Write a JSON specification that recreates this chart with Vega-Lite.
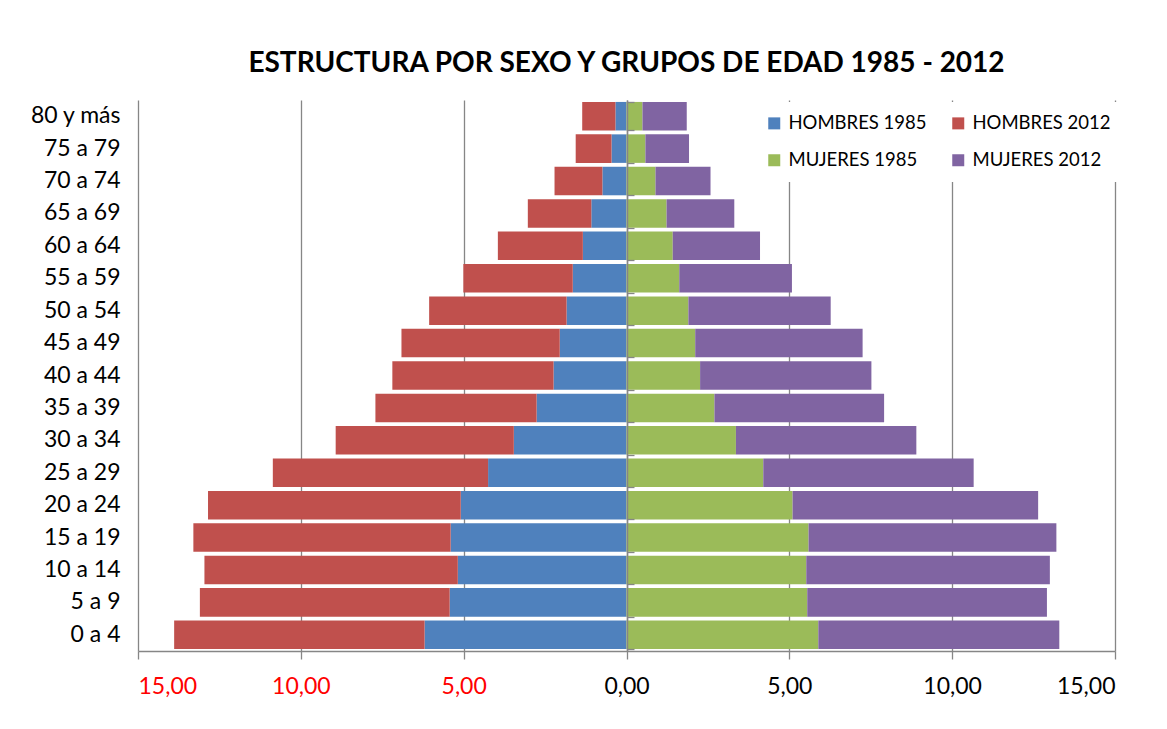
{
  "$schema": "https://vega.github.io/schema/vega-lite/v6.json",
  "width": 977,
  "height": 551,
  "autosize": {"type": "none"},
  "padding": {"left": 138, "top": 100, "right": 52, "bottom": 78},
  "background": "white",
  "title": {
    "text": "ESTRUCTURA POR SEXO Y GRUPOS DE EDAD 1985 - 2012",
    "font": "Lato",
    "fontSize": 28,
    "fontWeight": "bold",
    "color": "#000000",
    "anchor": "middle",
    "frame": "group",
    "baseline": "alphabetic",
    "offset": 0
  },
  "config": {
    "view": {"stroke": null},
    "axis": {"labelFont": "Lato", "titleFont": "Lato"},
    "legend": {"labelFont": "Lato"}
  },
  "data": {
    "values": [
      {"edad": "80 y más", "serie": "HOMBRES 1985", "valor": -0.34},
      {"edad": "80 y más", "serie": "HOMBRES 2012", "valor": -1.02},
      {"edad": "80 y más", "serie": "MUJERES 1985", "valor": 0.49},
      {"edad": "80 y más", "serie": "MUJERES 2012", "valor": 1.36},
      {"edad": "75 a 79", "serie": "HOMBRES 1985", "valor": -0.46},
      {"edad": "75 a 79", "serie": "HOMBRES 2012", "valor": -1.10},
      {"edad": "75 a 79", "serie": "MUJERES 1985", "valor": 0.58},
      {"edad": "75 a 79", "serie": "MUJERES 2012", "valor": 1.34},
      {"edad": "70 a 74", "serie": "HOMBRES 1985", "valor": -0.74},
      {"edad": "70 a 74", "serie": "HOMBRES 2012", "valor": -1.47},
      {"edad": "70 a 74", "serie": "MUJERES 1985", "valor": 0.89},
      {"edad": "70 a 74", "serie": "MUJERES 2012", "valor": 1.69},
      {"edad": "65 a 69", "serie": "HOMBRES 1985", "valor": -1.08},
      {"edad": "65 a 69", "serie": "HOMBRES 2012", "valor": -1.95},
      {"edad": "65 a 69", "serie": "MUJERES 1985", "valor": 1.23},
      {"edad": "65 a 69", "serie": "MUJERES 2012", "valor": 2.08},
      {"edad": "60 a 64", "serie": "HOMBRES 1985", "valor": -1.34},
      {"edad": "60 a 64", "serie": "HOMBRES 2012", "valor": -2.61},
      {"edad": "60 a 64", "serie": "MUJERES 1985", "valor": 1.42},
      {"edad": "60 a 64", "serie": "MUJERES 2012", "valor": 2.68},
      {"edad": "55 a 59", "serie": "HOMBRES 1985", "valor": -1.65},
      {"edad": "55 a 59", "serie": "HOMBRES 2012", "valor": -3.36},
      {"edad": "55 a 59", "serie": "MUJERES 1985", "valor": 1.62},
      {"edad": "55 a 59", "serie": "MUJERES 2012", "valor": 3.46},
      {"edad": "50 a 54", "serie": "HOMBRES 1985", "valor": -1.84},
      {"edad": "50 a 54", "serie": "HOMBRES 2012", "valor": -4.22},
      {"edad": "50 a 54", "serie": "MUJERES 1985", "valor": 1.90},
      {"edad": "50 a 54", "serie": "MUJERES 2012", "valor": 4.37},
      {"edad": "45 a 49", "serie": "HOMBRES 1985", "valor": -2.05},
      {"edad": "45 a 49", "serie": "HOMBRES 2012", "valor": -4.86},
      {"edad": "45 a 49", "serie": "MUJERES 1985", "valor": 2.11},
      {"edad": "45 a 49", "serie": "MUJERES 2012", "valor": 5.14},
      {"edad": "40 a 44", "serie": "HOMBRES 1985", "valor": -2.24},
      {"edad": "40 a 44", "serie": "HOMBRES 2012", "valor": -4.95},
      {"edad": "40 a 44", "serie": "MUJERES 1985", "valor": 2.26},
      {"edad": "40 a 44", "serie": "MUJERES 2012", "valor": 5.26},
      {"edad": "35 a 39", "serie": "HOMBRES 1985", "valor": -2.76},
      {"edad": "35 a 39", "serie": "HOMBRES 2012", "valor": -4.95},
      {"edad": "35 a 39", "serie": "MUJERES 1985", "valor": 2.70},
      {"edad": "35 a 39", "serie": "MUJERES 2012", "valor": 5.21},
      {"edad": "30 a 34", "serie": "HOMBRES 1985", "valor": -3.46},
      {"edad": "30 a 34", "serie": "HOMBRES 2012", "valor": -5.47},
      {"edad": "30 a 34", "serie": "MUJERES 1985", "valor": 3.36},
      {"edad": "30 a 34", "serie": "MUJERES 2012", "valor": 5.54},
      {"edad": "25 a 29", "serie": "HOMBRES 1985", "valor": -4.25},
      {"edad": "25 a 29", "serie": "HOMBRES 2012", "valor": -6.61},
      {"edad": "25 a 29", "serie": "MUJERES 1985", "valor": 4.20},
      {"edad": "25 a 29", "serie": "MUJERES 2012", "valor": 6.46},
      {"edad": "20 a 24", "serie": "HOMBRES 1985", "valor": -5.09},
      {"edad": "20 a 24", "serie": "HOMBRES 2012", "valor": -7.76},
      {"edad": "20 a 24", "serie": "MUJERES 1985", "valor": 5.10},
      {"edad": "20 a 24", "serie": "MUJERES 2012", "valor": 7.54},
      {"edad": "15 a 19", "serie": "HOMBRES 1985", "valor": -5.40},
      {"edad": "15 a 19", "serie": "HOMBRES 2012", "valor": -7.90},
      {"edad": "15 a 19", "serie": "MUJERES 1985", "valor": 5.59},
      {"edad": "15 a 19", "serie": "MUJERES 2012", "valor": 7.61},
      {"edad": "10 a 14", "serie": "HOMBRES 1985", "valor": -5.18},
      {"edad": "10 a 14", "serie": "HOMBRES 2012", "valor": -7.78},
      {"edad": "10 a 14", "serie": "MUJERES 1985", "valor": 5.52},
      {"edad": "10 a 14", "serie": "MUJERES 2012", "valor": 7.48},
      {"edad": "5 a 9", "serie": "HOMBRES 1985", "valor": -5.43},
      {"edad": "5 a 9", "serie": "HOMBRES 2012", "valor": -7.67},
      {"edad": "5 a 9", "serie": "MUJERES 1985", "valor": 5.55},
      {"edad": "5 a 9", "serie": "MUJERES 2012", "valor": 7.36},
      {"edad": "0 a 4", "serie": "HOMBRES 1985", "valor": -6.20},
      {"edad": "0 a 4", "serie": "HOMBRES 2012", "valor": -7.69},
      {"edad": "0 a 4", "serie": "MUJERES 1985", "valor": 5.89},
      {"edad": "0 a 4", "serie": "MUJERES 2012", "valor": 7.40}
    ]
  },
  "encoding": {
    "y": {
      "field": "edad",
      "type": "nominal",
      "sort": ["80 y más","75 a 79","70 a 74","65 a 69","60 a 64","55 a 59","50 a 54","45 a 49","40 a 44","35 a 39","30 a 34","25 a 29","20 a 24","15 a 19","10 a 14","5 a 9","0 a 4"],
      "scale": {"paddingInner": 0.12, "paddingOuter": 0.06}
    }
  },
  "layer": [
    {
      "mark": {"type": "bar"},
      "encoding": {
        "y": {
          "field": "edad",
          "type": "nominal",
          "sort": ["80 y más","75 a 79","70 a 74","65 a 69","60 a 64","55 a 59","50 a 54","45 a 49","40 a 44","35 a 39","30 a 34","25 a 29","20 a 24","15 a 19","10 a 14","5 a 9","0 a 4"],
          "axis": {
            "title": null,
            "domain": false,
            "ticks": false,
            "labelFontSize": 23,
            "labelColor": "#000000",
            "labelPadding": 18
          }
        },
        "x": {
          "field": "valor",
          "type": "quantitative",
          "stack": "zero",
          "scale": {"domain": [-15, 15], "nice": false},
          "axis": {
            "title": null,
            "values": [-15, -10, -5, 0, 5, 10, 15],
            "labelExpr": "replace(format(abs(datum.value), '.2f'), '.', ',')",
            "labelFontSize": 23,
            "labelColor": {"condition": {"test": "datum.value < 0", "value": "#FF0000"}, "value": "#000000"},
            "labelPadding": 16,
            "grid": true,
            "gridColor": "#868686",
            "gridWidth": 1.3,
            "domainColor": "#868686",
            "domainWidth": 1.3,
            "tickColor": "#868686",
            "tickWidth": 1.3,
            "tickSize": 8
          }
        },
        "color": {
          "field": "serie",
          "type": "nominal",
          "scale": {
            "domain": ["HOMBRES 1985", "HOMBRES 2012", "MUJERES 1985", "MUJERES 2012"],
            "range": ["#4F81BD", "#C0504D", "#9BBB59", "#8064A2"]
          },
          "legend": {
            "title": null,
            "orient": "none",
            "direction": "horizontal",
            "legendX": 615,
            "legendY": 2,
            "columns": 2,
            "fillColor": "white",
            "padding": 12,
            "symbolType": "square",
            "symbolSize": 144,
            "symbolStrokeWidth": 0,
            "labelFontSize": 18.5,
            "labelColor": "#000000",
            "labelOffset": 5,
            "columnPadding": 22,
            "rowPadding": 18
          }
        },
        "order": {"field": "serie", "type": "nominal"}
      }
    },
    {
      "mark": {"type": "tick", "opacity": 0},
      "encoding": {
        "y": {
          "field": "edad",
          "type": "nominal",
          "sort": ["80 y más","75 a 79","70 a 74","65 a 69","60 a 64","55 a 59","50 a 54","45 a 49","40 a 44","35 a 39","30 a 34","25 a 29","20 a 24","15 a 19","10 a 14","5 a 9","0 a 4"],
          "axis": {
            "title": null,
            "labels": false,
            "offset": -488,
            "domain": true,
            "domainColor": "#868686",
            "domainWidth": 1.5,
            "ticks": true,
            "tickBand": "extent",
            "tickColor": "#868686",
            "tickWidth": 1.3,
            "tickSize": 7,
            "zindex": 2
          }
        },
        "x": {"datum": 0, "type": "quantitative"}
      }
    }
  ],
  "resolve": {"axis": {"y": "independent"}}
}
